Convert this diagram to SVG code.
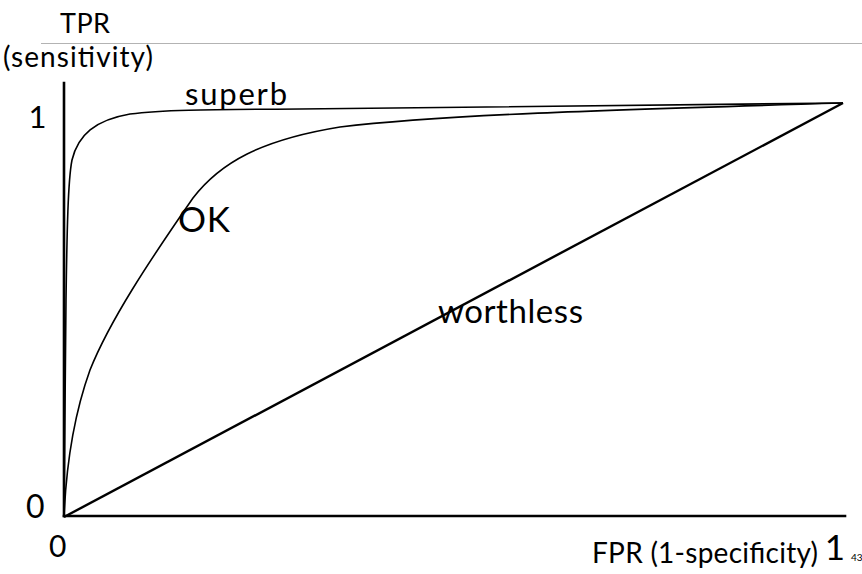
<svg xmlns="http://www.w3.org/2000/svg" width="862" height="574" viewBox="0 0 862 574">
  <style>
    text { font-family: "Lato", "Open Sans", "DejaVu Sans", sans-serif; fill: #000; }
    .axis { stroke: #000; stroke-width: 2.6; fill: none; stroke-linecap: square; }
    .curve { stroke: #000; stroke-width: 1.6; fill: none; }
    .diag { stroke: #000; stroke-width: 2.4; fill: none; }
  </style>
  <rect width="862" height="574" fill="#fff"/>
  <!-- header rule -->
  <line x1="41" y1="43.5" x2="862" y2="43.5" stroke="#b3b3b3" stroke-width="1"/>

  <g id="axes">
    <line class="axis" x1="64" y1="83" x2="64" y2="516"/>
    <line class="axis" x1="64" y1="516" x2="845" y2="516"/>
  </g>

  <g id="connectors">
    <!-- superb ROC curve -->
    <path id="curve-superb" class="curve" d="M64,517 L66,300 C67,230 68,180 72,160 C78,135 95,120 130,114 C160,110 200,109.5 300,109 L843,103"/>
    <!-- OK ROC curve -->
    <path id="curve-ok" class="curve" d="M64,517 C66,470 72,420 90,370 C110,320 150,260 193,198 C220,163 260,140 340,127 C440,115 600,110 843,103"/>
    <!-- worthless (chance) diagonal -->
    <line id="curve-worthless" class="diag" x1="64" y1="517" x2="843" y2="103"/>
  </g>

  <g id="labels">
    <text x="60" y="33" font-size="27" textLength="50">TPR</text>
    <text x="3" y="67" font-size="28" textLength="150">(sensitivity)</text>
    <text x="37.5" y="128" font-size="31" text-anchor="middle">1</text>
    <text x="26" y="518" font-size="32">0</text>
    <text x="49" y="557" font-size="30">0</text>
    <text x="592" y="563" font-size="28" textLength="226">FPR (1-specificity)</text>
    <text x="835" y="560" font-size="35" text-anchor="middle">1</text>
    <text x="851" y="561" font-size="10">43</text>
    <text x="185" y="105" font-size="31" textLength="102">superb</text>
    <text x="178" y="232" font-size="35" textLength="52">OK</text>
    <text x="438" y="323" font-size="33" textLength="145">worthless</text>
  </g>
</svg>
